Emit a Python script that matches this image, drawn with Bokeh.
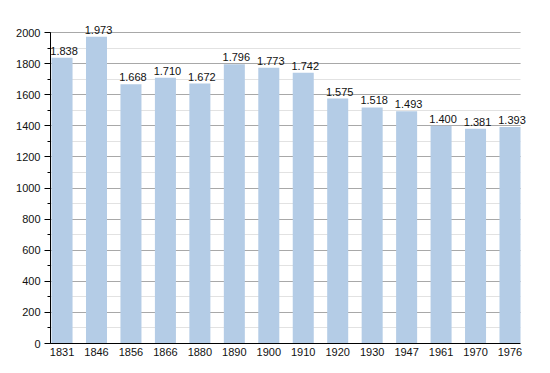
from bokeh.plotting import figure
from bokeh.models import ColumnDataSource, LabelSet, SingleIntervalTicker, FixedTicker, Range1d
from bokeh.core.properties import value
from bokeh.embed import file_html
from bokeh.resources import INLINE

years = ["1831", "1846", "1856", "1866", "1880", "1890", "1900", "1910",
         "1920", "1930", "1947", "1961", "1970", "1976"]
population = [1838, 1973, 1668, 1710, 1672, 1796, 1773, 1742,
              1575, 1518, 1493, 1400, 1381, 1393]

xs = list(range(len(years)))
labels = [f"{v:,}".replace(",", ".") for v in population]
src = ColumnDataSource(dict(x=xs, y=population, label=labels))

FONT = "Liberation Sans"
BAR_W = 0.61
Y_MAX = 2000
X0 = -BAR_W / 2 - 0.03
X1 = len(years) - 1 + BAR_W / 2

p = figure(width=550, height=373, output_backend="svg", toolbar_location=None,
           x_range=Range1d(X0, X1 + 0.29),
           y_range=Range1d(0, 2116),
           min_border_left=50, min_border_right=20, min_border_top=14, min_border_bottom=30)
p.outline_line_color = None
p.background_fill_color = "white"
p.border_fill_color = "white"

p.vbar(x="x", top="y", width=BAR_W, source=src, fill_color="#b4cce6", line_color=None)

p.add_layout(LabelSet(x="x", y="y", text="label", source=src, text_align="center",
                      text_baseline="bottom", y_offset=3, x_offset=2,
                      text_font=value(FONT), text_font_size=value("11px"),
                      text_color=value("#111111")))

# y axis
p.yaxis.ticker = SingleIntervalTicker(interval=200, num_minor_ticks=2)
p.yaxis.bounds = (0, Y_MAX)
p.yaxis.major_tick_out = 6
p.yaxis.major_tick_in = 0
p.yaxis.minor_tick_out = 3
p.yaxis.minor_tick_in = 0
p.yaxis.major_label_standoff = 4
p.yaxis.axis_line_color = "black"
p.yaxis.major_tick_line_color = "black"
p.yaxis.minor_tick_line_color = "black"
p.yaxis.major_label_text_font = FONT
p.yaxis.major_label_text_font_size = "11px"
p.yaxis.major_label_text_color = "#111111"

# x axis
p.xaxis.ticker = FixedTicker(ticks=xs)
p.xaxis.bounds = (X0, X1)
p.xaxis.major_label_overrides = {i: y for i, y in zip(xs, years)}
p.xaxis.major_tick_out = 0
p.xaxis.major_tick_in = 0
p.xaxis.minor_tick_line_color = None
p.xaxis.major_label_standoff = 4
p.xaxis.axis_line_color = "black"
p.xaxis.major_label_text_font = FONT
p.xaxis.major_label_text_font_size = "11px"
p.xaxis.major_label_text_color = "#111111"

# grids
p.xgrid.grid_line_color = None
p.ygrid.ticker = SingleIntervalTicker(interval=200, num_minor_ticks=2)
p.ygrid.bounds = (0, Y_MAX)
p.ygrid.cross_bounds = (X0, X1)
p.ygrid.grid_line_color = "#a8a8a8"
p.ygrid.minor_grid_line_color = "#e2e2e2"

open("out.html", "w").write(file_html(p, INLINE))
